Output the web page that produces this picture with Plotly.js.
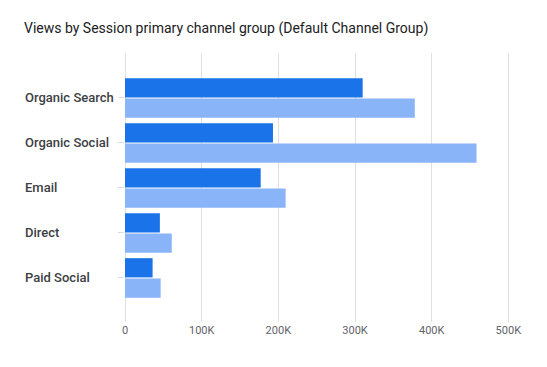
<!DOCTYPE html>
<html>
<head>
<meta charset="utf-8">
<script src="https://cdn.plot.ly/plotly-3.0.1.min.js"></script>
<style>html,body{margin:0;padding:0;background:#fff;}#chart{width:547px;height:367px;}</style>
</head>
<body>
<div id="chart"></div>
<script>
const categories = ["Organic Search", "Organic Social", "Email", "Direct", "Paid Social"];
const seriesA = [310000, 193000, 177000, 45500, 36000];
const seriesB = [378000, 458500, 209500, 61000, 46500];
const xTickVals = [0, 100000, 200000, 300000, 400000, 500000];
const xTickText = ["0", "100K", "200K", "300K", "400K", "500K"];

const traces = [
  {type: 'bar', orientation: 'h', y: categories, x: seriesA, name: 'Series A',
   marker: {color: '#1a73e8'}, hoverinfo: 'x+y'},
  {type: 'bar', orientation: 'h', y: categories, x: seriesB, name: 'Series B',
   marker: {color: '#8ab4f8'}, hoverinfo: 'x+y'}
];

const plotLeft = 125.3, plotWidth = 391;
const labelAnnotations = categories.map(c => ({
  text: c, xref: 'paper', yref: 'y', x: (23 - plotLeft) / plotWidth, y: c,
  xanchor: 'left', yanchor: 'middle', showarrow: false,
  font: {family: 'Roboto, Arial, sans-serif', size: 13, color: '#3c4043', weight: 500}
}));

const layout = {
  width: 547, height: 367,
  margin: {l: plotLeft, r: 547 - plotLeft - plotWidth, t: 53, b: 45, pad: 0},
  paper_bgcolor: '#fff', plot_bgcolor: '#fff',
  showlegend: false,
  barmode: 'group', bargap: 0.1, bargroupgap: 0.05,
  font: {family: 'Roboto, Arial, sans-serif'},
  title: {text: 'Views by Session primary channel group (Default Channel Group)',
          x: 24/547, xanchor: 'left', xref: 'container', y: 1 - 28/367, yanchor: 'middle', yref: 'container',
          font: {family: 'Roboto, Arial, sans-serif', size: 14, color: '#202124'}},
  annotations: labelAnnotations,
  xaxis: {range: [0, 510000], tickvals: xTickVals, ticktext: xTickText,
          showgrid: true, gridcolor: '#e0e0e0', gridwidth: 1,
          zeroline: true, zerolinecolor: '#e0e0e0', zerolinewidth: 1,
          showline: false, ticks: '', fixedrange: true,
          tickfont: {family: 'Roboto, Arial, sans-serif', size: 11, color: '#5f6368'}},
  yaxis: {type: 'category', range: [4.98, -1], showgrid: false, zeroline: false, showline: false,
          ticks: 'outside', ticklen: 6, tickcolor: '#dadce0', tickwidth: 1, showticklabels: false,
          fixedrange: true}
};

Plotly.newPlot('chart', traces, layout, {displayModeBar: false, staticPlot: true});
</script>
</body>
</html>
